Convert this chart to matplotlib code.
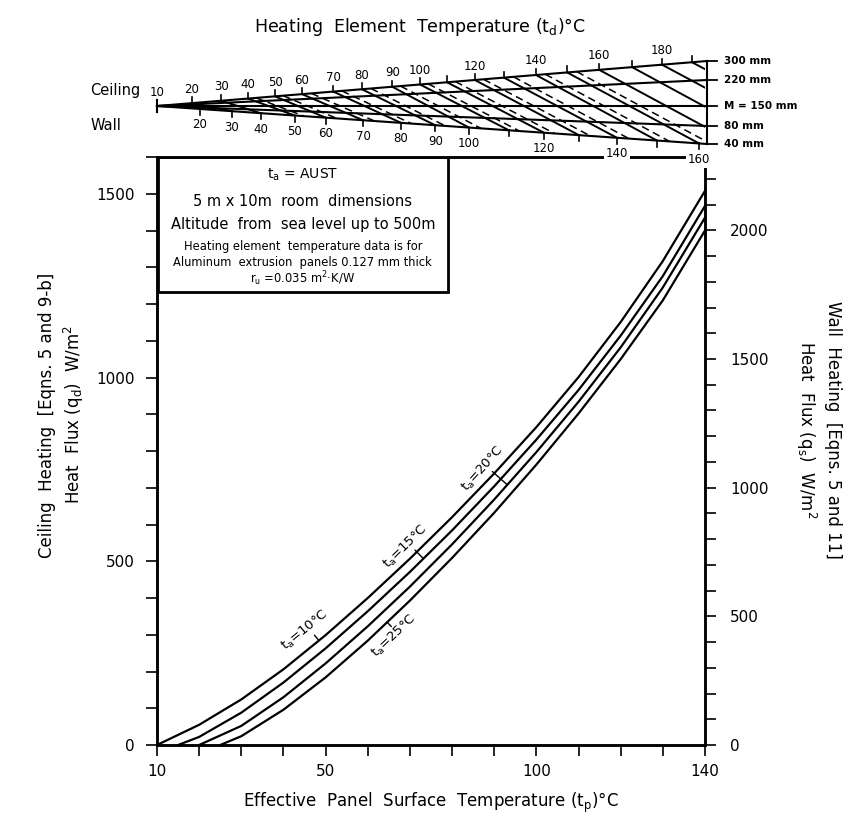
import numpy as np
import matplotlib.pyplot as plt
from matplotlib.patches import Polygon, Rectangle
from matplotlib.ticker import MultipleLocator, FixedLocator, FixedFormatter

plt.rcParams['font.family'] = ['DejaVu Sans']
plt.rcParams['mathtext.default'] = 'regular'

# heat flux curves (ceiling scale W/m2) vs effective panel temperature
tp_10 = [10, 20, 30, 40, 50, 60, 70, 80, 90, 100, 110, 120, 130, 140]
q_10 = [0, 55, 124, 206, 299, 400, 507, 620, 739, 865, 1001, 1151, 1317, 1508]
tp_15 = [15, 20, 30, 40, 50, 60, 70, 80, 90, 100, 110, 120, 130, 140]
q_15 = [0, 22, 88, 170, 263, 364, 471, 584, 704, 831, 966, 1114, 1276, 1467]
tp_20 = [20, 30, 40, 50, 60, 70, 80, 90, 100, 110, 120, 130, 140]
q_20 = [0, 52, 130, 222, 323, 431, 546, 668, 797, 934, 1082, 1245, 1435]
tp_25 = [25, 30, 40, 50, 60, 70, 80, 90, 100, 110, 120, 130, 140]
q_25 = [0, 24, 96, 184, 284, 393, 509, 632, 763, 902, 1050, 1210, 1400]

air_temps = [10, 15, 20, 25]
label_tp = [48.4, 73.2, 93.1, 64.6]

# nomograph scales (position expressed on the tp axis)
ceil_td = [10, 20, 30, 40, 50, 60, 70, 80, 90, 100, 110, 120, 130, 140, 150, 160, 170, 180, 190]
ceil_at = [10, 18.3, 25.2, 31.6, 38.0, 44.4, 51.8, 58.6, 65.8, 72.4, 78.8, 85.4, 92.3, 99.9,
           107.3, 114.9, 122.7, 129.8, 136.9]
ceil_lab = [10, 20, 30, 40, 50, 60, 70, 80, 90, 100, 120, 140, 160, 180]
wall_td = [10, 20, 30, 40, 50, 60, 70, 80, 90, 100, 110, 120, 130, 140, 150, 160, 170, 180, 190, 200]
wall_at = [10, 20.1, 27.7, 34.6, 42.7, 50.0, 58.9, 67.9, 76.0, 84.0, 93.5, 101.8, 110.1, 119.1,
           128.6, 138.6, 148.6, 158.6, 168.6, 178.6]
wall_lab = [20, 30, 40, 50, 60, 70, 80, 90, 100, 120, 140, 160]
spacing = ['300 mm', '220 mm', 'M = 150 mm', '80 mm', '40 mm']
spacing_rise = [45, 26, 0, -20, -38]

W, H = 848, 816


def fpos(x0, y0, x1, y1):
    return [x0 / W, 1 - y1 / H, (x1 - x0) / W, (y1 - y0) / H]


fig = plt.figure(figsize=(W / 100, H / 100), dpi=100)
ax = fig.add_axes(fpos(157, 157, 705, 745))
ax.set_xlim(10, 140)
ax.set_ylim(0, 1600)
ax2 = ax.twinx()
ax2.set_ylim(0, 2285)

curves = [(tp_10, q_10), (tp_15, q_15), (tp_20, q_20), (tp_25, q_25)]
for x, y in curves:
    ax.plot(x, y, color='black', lw=1.6, solid_joinstyle='round')

# curve labels with small leader ticks
tick_len = [7, 12, 20, 6]
for k, (ta, xt) in enumerate(zip(air_temps, label_tp)):
    x, y = curves[k]
    yt = np.interp(xt, x, y)
    p0 = ax.transData.transform((xt - 1, np.interp(xt - 1, x, y)))
    p1 = ax.transData.transform((xt + 1, np.interp(xt + 1, x, y)))
    ang = np.degrees(np.arctan2(p1[1] - p0[1], p1[0] - p0[0]))
    a = np.radians(ang)
    side = 1 if ta != 25 else -1
    nx, ny = -np.sin(a) * side, np.cos(a) * side
    L = tick_len[k]
    ax.annotate('', xy=(xt, yt), xytext=(nx * L * 0.72, ny * L * 0.72), textcoords='offset points',
                arrowprops=dict(arrowstyle='-', lw=1.0, color='black', shrinkA=0, shrinkB=0))
    d = L + 9
    ox = (nx * d - 4 * np.cos(a)) * 0.72
    oy = (ny * d - 4 * np.sin(a)) * 0.72
    ax.annotate('$t_a$=%d°C' % ta, xy=(xt, yt), xytext=(ox, oy), textcoords='offset points',
                rotation=ang, rotation_mode='anchor', ha='center', va='center', fontsize=9.5)

# axes styling
xt_major = list(range(10, 141, 10))
ax.xaxis.set_major_locator(FixedLocator(xt_major))
ax.xaxis.set_major_formatter(FixedFormatter([str(v) if v in (10, 50, 100, 140) else '' for v in xt_major]))
ax.yaxis.set_major_locator(MultipleLocator(500))
ax.yaxis.set_minor_locator(MultipleLocator(100))
ax2.yaxis.set_major_locator(MultipleLocator(500))
ax2.yaxis.set_minor_locator(MultipleLocator(100))
for a_ in (ax, ax2):
    a_.tick_params(which='both', direction='out', length=8, width=1.2, labelsize=11, pad=6)
    for s in a_.spines.values():
        s.set_linewidth(1.8)
ax.tick_params(axis='y', pad=8)
ax2.tick_params(axis='y', pad=10)

ax.set_xlabel('Effective  Panel  Surface  Temperature ($t_p$)°C', fontsize=12, labelpad=8)
fig.text(62 / W, 1 - 415 / H, 'Ceiling  Heating  [Eqns. 5 and 9-b]\nHeat  Flux ($q_d$)  W/m$^2$',
         rotation=90, ha='center', va='center', multialignment='center', fontsize=12, linespacing=1.3)
fig.text(818 / W, 1 - 430 / H, 'Wall  Heating  [Eqns. 5 and 11]\nHeat  Flux ($q_s$)  W/m$^2$',
         rotation=270, ha='center', va='center', multialignment='center', fontsize=12, linespacing=1.3)

# info box
ax.add_patch(Rectangle((0.002, 0.770), 0.529, 0.23, transform=ax.transAxes, fill=False,
                       lw=2.0, edgecolor='black', zorder=5))
info = [('$t_a$ = AUST', 0.97, 10),
        ('5 m x 10m  room  dimensions', 0.924, 10.5),
        ('Altitude  from  sea level up to 500m', 0.885, 10.5),
        ('Heating element  temperature data is for', 0.848, 8.3),
        ('Aluminum  extrusion  panels 0.127 mm thick', 0.821, 8.3),
        ('$r_u$ =0.035 m$^2$·K/W', 0.793, 8.3)]
for txt, yy, fs in info:
    ax.text(0.266, yy, txt, transform=ax.transAxes, ha='center', va='center', fontsize=fs)

# nomograph
nom = fig.add_axes(fpos(157, 40, 705, 157))
nom.set_xlim(10, 140)
nom.set_ylim(-51, 66)
nom.axis('off')
x_end = 140.5
top, bot = spacing_rise[0], spacing_rise[-1]


def on_line(x, rise):
    return rise * (np.asarray(x) - 10) / (x_end - 10)


for lab, r in zip(spacing, spacing_rise):
    nom.plot([10, x_end], [0, r], color='black', lw=1.5, clip_on=False)
    nom.plot([x_end, x_end + 2.4], [r, r], color='black', lw=1.3, clip_on=False)
    nom.text(x_end + 4, r, lab, ha='left', va='center', fontsize=7.5, fontweight='bold', clip_on=False)
nom.plot([x_end, x_end], [bot, top], color='black', lw=1.5, clip_on=False)
nom.plot([10, 10], [-6, 6], color='black', lw=1.5, clip_on=False)

fan = Polygon([[10, 0], [x_end, top], [x_end, bot]], closed=True, transform=nom.transData,
              facecolor='none', edgecolor='none')
nom.add_patch(fan)
for td, cx in zip(ceil_td[1:], ceil_at[1:]):
    wx = np.interp(td + 10, wall_td, wall_at)
    ln, = nom.plot([cx, wx], [on_line(cx, top), on_line(wx, bot)], color='black', lw=1.4)
    ln.set_clip_path(fan)
for td in range(40, 151, 10):
    cx = np.interp(td + 3, ceil_td, ceil_at)
    wx = np.interp(td + 13, wall_td, wall_at)
    ln, = nom.plot([cx, wx], [on_line(cx, top), on_line(wx, bot)], color='black', lw=1.1,
                   dashes=(5, 3))
    ln.set_clip_path(fan)

for td, cx in zip(ceil_td, ceil_at):
    yl = on_line(cx, top)
    if td > 10:
        nom.plot([cx, cx], [yl, yl + 6], color='black', lw=1.2, clip_on=False)
    if td in ceil_lab:
        nom.text(cx, yl + 14, str(td), ha='center', va='center', fontsize=8.5, clip_on=False)
for td, wx in zip(wall_td, wall_at):
    if td < 20 or td > 160:
        continue
    yl = on_line(wx, bot)
    nom.plot([wx, wx], [yl, yl - 6], color='black', lw=1.2, clip_on=False)
    if td in wall_lab:
        box = dict(facecolor='white', edgecolor='none', pad=1.5) if td >= 140 else None
        nom.text(wx, yl - 16, str(td), ha='center', va='center', fontsize=8.5, clip_on=False,
                 bbox=box, zorder=6)

fig.text(115 / W, 1 - 90 / H, 'Ceiling', ha='center', va='center', fontsize=10.5)
fig.text(106 / W, 1 - 126 / H, 'Wall', ha='center', va='center', fontsize=10.5)
fig.text(420 / W, 1 - 27 / H, 'Heating  Element  Temperature ($t_d$)°C', ha='center', va='center',
         fontsize=12.5)

fig.savefig('out.png', dpi=100)
